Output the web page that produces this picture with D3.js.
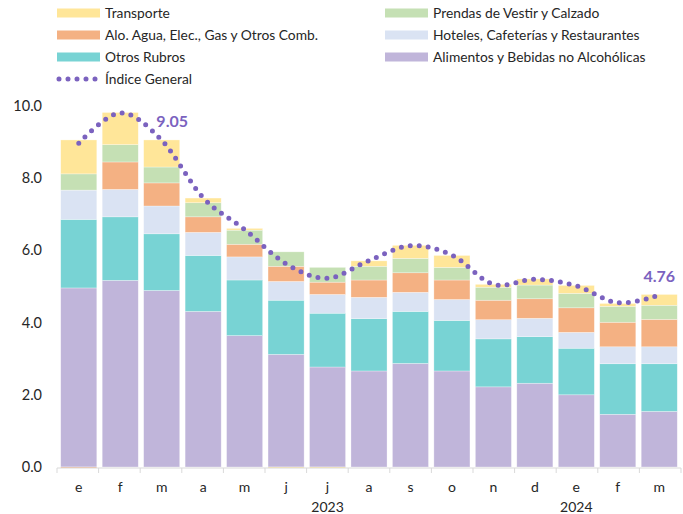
<!DOCTYPE html>
<html>
<head>
<meta charset="utf-8">
<script src="https://cdn.jsdelivr.net/npm/d3@7"></script>
<style>
  body { margin: 0; background: #fff; }
  text { font-family: Lato, "Open Sans", sans-serif; fill: #262626; }
</style>
</head>
<body>
<svg id="chart" width="683" height="514"></svg>
<script>
// months e 2023 .. m 2024
const months = ["e", "f", "m", "a", "m", "j", "j", "a", "s", "o", "n", "d", "e", "f", "m"];
const years = [{ label: "2023", at: 6 }, { label: "2024", at: 12 }];

// contributions (pp), bottom to top
const alimentos  = [4.96, 5.17, 4.89, 4.31, 3.64, 3.12, 2.77, 2.66, 2.87, 2.66, 2.22, 2.32, 2.00, 1.46, 1.54];
const otros      = [1.90, 1.76, 1.57, 1.55, 1.54, 1.50, 1.49, 1.45, 1.44, 1.40, 1.33, 1.29, 1.29, 1.40, 1.32];
const hoteles    = [0.81, 0.76, 0.77, 0.64, 0.64, 0.52, 0.52, 0.59, 0.53, 0.58, 0.53, 0.51, 0.44, 0.47, 0.47];
const alojamiento= [-0.09, 0.76, 0.64, 0.43, 0.35, 0.42, 0.34, 0.48, 0.54, 0.54, 0.54, 0.54, 0.68, 0.68, 0.76];
const prendas    = [0.45, 0.48, 0.44, 0.39, 0.39, 0.40, 0.41, 0.38, 0.40, 0.35, 0.36, 0.38, 0.40, 0.44, 0.39];
const transporte = [0.94, 0.89, 0.75, 0.13, 0.05, -0.33, -0.30, 0.15, 0.36, 0.33, 0.08, 0.17, 0.22, 0.08, 0.30];
const indice     = [8.97, 9.81, 9.05, 7.46, 6.58, 5.63, 5.23, 5.72, 6.13, 5.87, 5.06, 5.20, 5.02, 4.55, 4.76];

const yTicks = [0, 2, 4, 6, 8, 10];
const labelled = [{ i: 2, text: "9.05", dx: 10.5 }, { i: 14, text: "4.76", dx: 0 }];

const series = [
  { key: "alimentos", name: "Alimentos y Bebidas no Alcohólicas", values: alimentos, color: "#c0b5da" },
  { key: "otros", name: "Otros Rubros", values: otros, color: "#78d3d4" },
  { key: "hoteles", name: "Hoteles, Cafeterías y Restaurantes", values: hoteles, color: "#dae3f3" },
  { key: "alojamiento", name: "Alo. Agua, Elec., Gas y Otros Comb.", values: alojamiento, color: "#f4b183" },
  { key: "prendas", name: "Prendas de Vestir y Calzado", values: prendas, color: "#c5e0b4" },
  { key: "transporte", name: "Transporte", values: transporte, color: "#ffe699" }
];
const lineColor = "#7b62bf";

const svg = d3.select("#chart");
const margin = { left: 57, right: 2, top: 106, bottom: 47 };
const W = 683, H = 514;

const table = months.map((m, i) => {
  const row = { i };
  series.forEach(s => row[s.key] = s.values[i]);
  return row;
});

const x = d3.scaleBand()
  .domain(d3.range(months.length))
  .range([margin.left, W - margin.right])
  .paddingInner(0.13)
  .paddingOuter(0.09);
const y = d3.scaleLinear().domain([0, 10]).range([H - margin.bottom, margin.top]);

const stack = d3.stack()
  .keys(series.map(s => s.key))
  .offset(d3.stackOffsetDiverging);
const layers = stack(table);

// negative parts fall below the axis minimum, only a sliver shows
svg.append("clipPath").attr("id", "plot")
  .append("rect")
  .attr("x", margin.left).attr("y", y(10.5))
  .attr("width", W - margin.left - margin.right)
  .attr("height", y(0) - y(10.5) + 1);

const bars = svg.append("g").attr("clip-path", "url(#plot)");
bars.selectAll("g")
  .data(layers)
  .join("g")
  .attr("fill", (d, k) => series[k].color)
  .selectAll("rect")
  .data(d => d)
  .join("rect")
  .attr("x", d => x(d.data.i))
  .attr("width", x.bandwidth())
  .attr("y", d => y(Math.max(d[0], d[1])))
  .attr("height", d => Math.abs(y(d[0]) - y(d[1])))
  .attr("stroke", "#fff")
  .attr("stroke-opacity", 0.5)
  .attr("stroke-width", 0.6);

// x axis
const step = (x.range()[1] - x.range()[0]) / months.length;
const axisG = svg.append("g");
axisG.append("line")
  .attr("x1", x.range()[0]).attr("x2", x.range()[1])
  .attr("y1", y(0) + 1).attr("y2", y(0) + 1)
  .attr("stroke", "#d9d9d9").attr("stroke-width", 1);
axisG.selectAll(".tk")
  .data(d3.range(months.length + 1))
  .join("line")
  .attr("x1", d => x.range()[0] + d * step)
  .attr("x2", d => x.range()[0] + d * step)
  .attr("y1", y(0) + 1).attr("y2", y(0) + 6)
  .attr("stroke", "#d9d9d9");
axisG.selectAll(".ml")
  .data(months)
  .join("text")
  .attr("x", (d, i) => x(i) + x.bandwidth() / 2)
  .attr("y", y(0) + 25)
  .attr("text-anchor", "middle")
  .attr("font-size", 14)
  .text(d => d);
axisG.selectAll(".yr")
  .data(years)
  .join("text")
  .attr("x", d => x(d.at) + x.bandwidth() / 2)
  .attr("y", y(0) + 45)
  .attr("text-anchor", "middle")
  .attr("font-size", 14)
  .text(d => d.label);

// y labels
svg.append("g").selectAll("text")
  .data(yTicks)
  .join("text")
  .attr("x", 42)
  .attr("y", d => y(d))
  .attr("dy", "0.35em")
  .attr("text-anchor", "end")
  .attr("font-size", 14.5)
  .text(d => d3.format(".1f")(d));

// índice general
const line = d3.line()
  .x((d, i) => x(i) + x.bandwidth() / 2)
  .y(d => y(d))
  .curve(d3.curveCardinal.tension(0));
svg.append("path")
  .datum(indice)
  .attr("d", line)
  .attr("fill", "none")
  .attr("stroke", lineColor)
  .attr("stroke-width", 5)
  .attr("stroke-linecap", "round")
  .attr("stroke-dasharray", "0 9");

svg.append("g").selectAll("text")
  .data(labelled)
  .join("text")
  .attr("x", d => x(d.i) + x.bandwidth() / 2 + d.dx)
  .attr("y", d => y(indice[d.i]) - 13)
  .attr("text-anchor", "middle")
  .attr("font-size", 16)
  .attr("font-weight", "bold")
  .style("fill", lineColor)
  .text(d => d.text);

// legend
const legendItems = [
  { s: "transporte", col: 0, row: 0 },
  { s: "prendas", col: 1, row: 0 },
  { s: "alojamiento", col: 0, row: 1 },
  { s: "hoteles", col: 1, row: 1 },
  { s: "otros", col: 0, row: 2 },
  { s: "alimentos", col: 1, row: 2 }
];
const colX = [57, 385], rowY = [13, 35, 57, 79];
const lg = svg.append("g");
legendItems.forEach(it => {
  const s = series.find(d => d.key === it.s);
  const gx = colX[it.col], gy = rowY[it.row];
  lg.append("rect").attr("x", gx).attr("y", gy - 4.5).attr("width", 43).attr("height", 9).attr("fill", s.color);
  lg.append("text").attr("x", gx + 48).attr("y", gy).attr("dy", "0.35em").attr("font-size", 13.8).text(s.name);
});
lg.append("line")
  .attr("x1", 59).attr("x2", 100).attr("y1", rowY[3]).attr("y2", rowY[3])
  .attr("stroke", lineColor).attr("stroke-width", 5)
  .attr("stroke-linecap", "round").attr("stroke-dasharray", "0 9");
lg.append("text").attr("x", 105).attr("y", rowY[3]).attr("dy", "0.35em").attr("font-size", 13.8).text("Índice General");
</script>
</body>
</html>
